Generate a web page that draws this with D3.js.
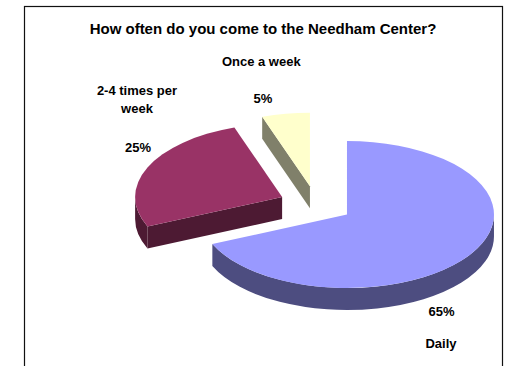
<!DOCTYPE html>
<html>
<head>
<meta charset="utf-8">
<script src="https://cdn.jsdelivr.net/npm/d3@7"></script>
<style>
  html, body { margin: 0; padding: 0; background: #fff; }
  svg { display: block; }
  text { font-family: "Liberation Sans", Arial, sans-serif; font-weight: bold; fill: #000; }
</style>
</head>
<body>
<svg id="chart" width="512" height="366"></svg>
<script>
// Survey answers, in drawing order (clockwise from 12 o'clock)
const categories = ["Daily", "2-4 times per week", "Once a week"];
const percents = [65, 25, 5];
const nameLines = [["Daily"], ["2-4 times per", "week"], ["Once a week"]];
const topColors = ["#9999FF", "#993366", "#FFFFCC"];
const sideColors = ["#4D4D80", "#4D1A33", "#80806A"];
const title = "How often do you come to the Needham Center?";

const svg = d3.select("#chart");
const W = 512, H = 366;

// frame
svg.append("rect")
  .attr("x", 24.5).attr("y", 6.5)
  .attr("width", 478).attr("height", 400)
  .attr("fill", "none").attr("stroke", "#111").attr("stroke-width", 1.2);

svg.append("text")
  .attr("x", 263).attr("y", 34.3)
  .attr("text-anchor", "middle")
  .attr("font-size", 15)
  .text(title);

// tilted pie geometry
const cx = 316, cy = 204.4, rx = 147, ry = 73.5, depth = 22, explode = 37;

const pie = d3.pie().sort(null).value(d => d.v).startAngle(0).endAngle(2 * Math.PI);
const arcs = pie(categories.map((c, i) => ({ c, v: percents[i], i })));

function pt(ax, ay, a, dy = 0) {
  return [ax + rx * Math.sin(a), ay - ry * Math.cos(a) + dy];
}

arcs.forEach(a => {
  const mid = (a.startAngle + a.endAngle) / 2;
  a.ax = cx + explode * Math.sin(mid);
  a.ay = cy - explode * (ry / rx) * Math.cos(mid);
});

// paint back to front
const order = arcs.slice().sort((p, q) => p.ay - q.ay);

order.forEach(a => {
  const i = a.data.i;
  const g = svg.append("g");
  const s = a.startAngle, e = a.endAngle;
  const A = [a.ax, a.ay];

  // radial walls facing the viewer
  const walls = [];
  if (Math.sin(s) < -1e-6) walls.push(s);
  if (Math.sin(e) > 1e-6) walls.push(e);
  walls.forEach(t => {
    const p = pt(a.ax, a.ay, t);
    const path = d3.path();
    path.moveTo(A[0], A[1]);
    path.lineTo(p[0], p[1]);
    path.lineTo(p[0], p[1] + depth);
    path.lineTo(A[0], A[1] + depth);
    path.closePath();
    g.append("path").attr("d", path.toString()).attr("fill", sideColors[i]);
  });

  // outer rim on the front half of the ellipse
  const s2 = Math.max(s, Math.PI / 2), e2 = Math.min(e, 3 * Math.PI / 2);
  if (e2 > s2) {
    const p0 = pt(a.ax, a.ay, s2), p1 = pt(a.ax, a.ay, e2);
    const large = (e2 - s2) > Math.PI ? 1 : 0;
    const d = `M${p0[0]},${p0[1]} A${rx},${ry} 0 ${large} 1 ${p1[0]},${p1[1]}` +
              ` L${p1[0]},${p1[1] + depth} A${rx},${ry} 0 ${large} 0 ${p0[0]},${p0[1] + depth} Z`;
    g.append("path").attr("d", d).attr("fill", sideColors[i]);
  }

  // top face
  const q0 = pt(a.ax, a.ay, s), q1 = pt(a.ax, a.ay, e);
  const largeTop = (e - s) > Math.PI ? 1 : 0;
  g.append("path")
    .attr("d", `M${A[0]},${A[1]} L${q0[0]},${q0[1]} A${rx},${ry} 0 ${largeTop} 1 ${q1[0]},${q1[1]} Z`)
    .attr("fill", topColors[i]);
});

// label placement: percentage and category name for each slice
const labelLayout = [
  { pct: [441.5, 315.7], name: [441, 348.3] },
  { pct: [138, 151.7], name: [137, 95] },
  { pct: [263, 103], name: [261.3, 65.7] }
];

arcs.forEach(a => {
  const i = a.data.i, L = labelLayout[i];
  svg.append("text")
    .attr("x", L.pct[0]).attr("y", L.pct[1])
    .attr("text-anchor", "middle").attr("font-size", 13)
    .text(d3.format(".0f")(a.data.v) + "%");
  const t = svg.append("text")
    .attr("x", L.name[0]).attr("y", L.name[1])
    .attr("text-anchor", "middle").attr("font-size", 13);
  nameLines[i].forEach((line, k) => {
    t.append("tspan").attr("x", L.name[0]).attr("dy", k ? 18 : 0).text(line);
  });
});
</script>
</body>
</html>
